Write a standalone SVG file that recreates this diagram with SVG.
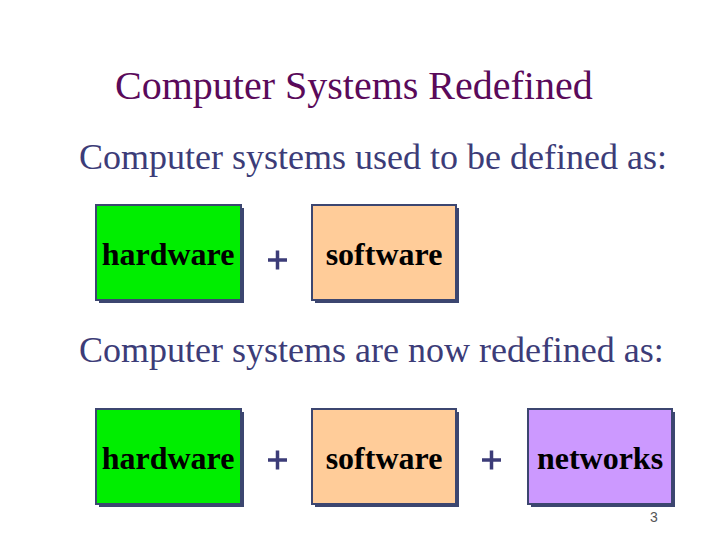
<svg xmlns="http://www.w3.org/2000/svg" width="720" height="540" viewBox="0 0 720 540">
<style>
.title{font-family:"Liberation Serif","Times New Roman",serif;font-size:40px;fill:#5a0a5a}
.sub{font-family:"Liberation Serif","Times New Roman",serif;font-size:36px;fill:#3c3c78}
.lbl{font-family:"Liberation Serif","Times New Roman",serif;font-size:32px;font-weight:bold;fill:#000}
.shadow{fill:#3c4670}
.box{stroke:#3c4670;stroke-width:2}
.plus{stroke:#3c3c78;stroke-width:3.5;fill:none}
.num{font-family:"Liberation Sans",Arial,sans-serif;font-size:14px;fill:#555}
</style>
<rect width="720" height="540" fill="#fff"/>
<text class="title" x="115" y="99">Computer Systems Redefined</text>
<text class="sub" x="79" y="169">Computer systems used to be defined as:</text>
<text class="sub" x="79" y="362">Computer systems are now redefined as:</text>
<g id="hw1">
<rect class="shadow" x="99" y="208" width="145" height="95"/>
<rect class="box" x="96" y="205" width="145" height="95" fill="#00ee00"/>
<text class="lbl" x="168" y="265" text-anchor="middle">hardware</text>
</g>
<g id="sw1">
<rect class="shadow" x="315" y="208" width="144" height="95"/>
<rect class="box" x="312" y="205" width="144" height="95" fill="#ffcc99"/>
<text class="lbl" x="384" y="265" text-anchor="middle">software</text>
</g>
<g id="hw2">
<rect class="shadow" x="99" y="412" width="145" height="95"/>
<rect class="box" x="96" y="409" width="145" height="95" fill="#00ee00"/>
<text class="lbl" x="168" y="469" text-anchor="middle">hardware</text>
</g>
<g id="sw2">
<rect class="shadow" x="315" y="412" width="144" height="95"/>
<rect class="box" x="312" y="409" width="144" height="95" fill="#ffcc99"/>
<text class="lbl" x="384" y="469" text-anchor="middle">software</text>
</g>
<g id="net2">
<rect class="shadow" x="531" y="412" width="144" height="95"/>
<rect class="box" x="528" y="409" width="144" height="95" fill="#cc99ff"/>
<text class="lbl" x="600" y="469" text-anchor="middle" font-size="31.5">networks</text>
</g>
<g id="connectors">
<path class="plus" d="M268 260h19M277.5 250.5v19"/>
<path class="plus" d="M268 460h19M277.5 450.5v19"/>
<path class="plus" d="M482 460h19M491.5 450.5v19"/>
</g>
<text class="num" x="654" y="522" text-anchor="middle">3</text>
</svg>
